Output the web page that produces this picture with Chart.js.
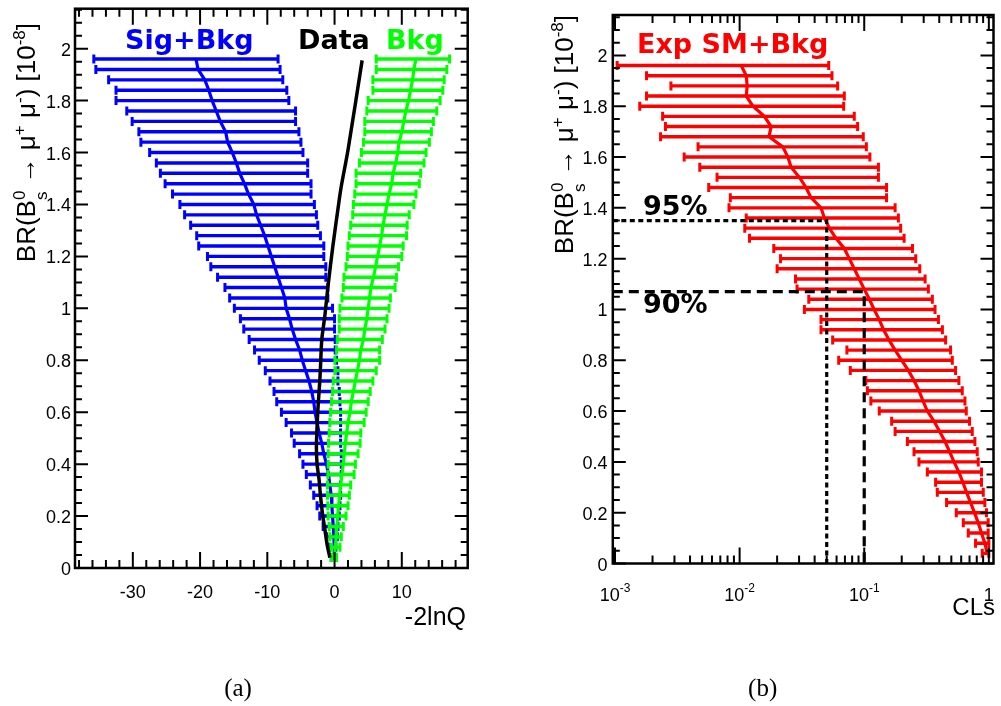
<!DOCTYPE html>
<html>
<head>
<meta charset="utf-8">
<script src="https://cdn.jsdelivr.net/npm/chart.js@4.4.0/dist/chart.umd.min.js"></script>
<style>
html,body{margin:0;padding:0;background:#fff;width:1001px;height:706px;overflow:hidden}
#wa{position:absolute;left:0;top:0;width:500px;height:706px}
#wb{position:absolute;left:500px;top:0;width:501px;height:706px}
canvas{display:block}
</style>
</head>
<body>
<div id="wa"><canvas id="ca" width="500" height="706"></canvas></div>
<div id="wb"><canvas id="cb" width="501" height="706"></canvas></div>
<script>
// ---------------- data ----------------
const brValues = [1.96,1.92,1.88,1.84,1.80,1.76,1.72,1.68,1.64,1.60,1.56,1.52,1.48,1.44,1.40,1.36,1.32,1.28,1.24,1.20,1.16,1.12,1.08,1.04,1.00,0.96,0.92,0.88,0.84,0.80,0.76,0.72,0.68,0.64,0.60,0.56,0.52,0.48,0.44,0.40,0.36,0.32,0.28,0.24,0.20,0.16,0.12,0.08,0.04];

// panel (a): -2lnQ
const sigBkgLow = [-35.8,-35.5,-33.6,-32.5,-32.5,-30.9,-30.1,-29.1,-28.8,-27.5,-26.5,-25.9,-25.2,-24.1,-23.0,-22.3,-21.4,-20.5,-20.2,-18.9,-18.4,-17.4,-16.3,-15.6,-14.9,-14.0,-13.5,-12.7,-11.9,-11.2,-10.3,-9.6,-9.0,-8.6,-7.9,-7.2,-6.4,-6.0,-5.2,-4.7,-4.2,-3.6,-3.1,-2.6,-2.2,-1.7,-1.2,-0.8,-0.5];
const sigBkgHigh = [-8.4,-8.1,-7.7,-7.1,-6.8,-5.8,-5.8,-5.3,-5.0,-4.7,-4.0,-4.0,-3.5,-3.5,-3.0,-2.7,-2.5,-2.1,-1.6,-1.6,-1.3,-1.3,-1.0,-1.0,-0.3,0.0,0.0,0.1,0.1,0.3,0.5,0.5,0.7,0.8,0.9,0.9,0.9,0.9,1.0,1.0,1.0,0.9,0.9,0.8,0.7,0.5,0.4,0.2,0.1];
const sigBkgMedian = [-20.6,-20.3,-19.3,-18.7,-18.2,-17.6,-17.0,-16.2,-15.9,-15.2,-14.6,-14.1,-13.4,-12.8,-12.0,-11.6,-11.0,-10.4,-9.9,-9.4,-8.9,-8.4,-7.9,-7.4,-7.2,-6.7,-6.3,-5.8,-5.2,-4.8,-4.3,-3.8,-3.4,-3.1,-2.9,-2.6,-2.3,-1.9,-1.6,-1.2,-0.9,-0.7,-0.5,-0.4,-0.3,-0.2,-0.1,-0.05,-0.05];
const bkgLow = [6.2,6.2,5.7,5.7,5.0,4.8,4.5,4.5,4.3,4.0,3.7,3.2,3.2,3.0,2.8,2.7,2.4,2.2,2.0,1.9,1.7,1.4,1.3,1.1,0.8,0.7,0.7,0.4,0.3,0.05,0.05,-0.2,-0.3,-0.45,-0.6,-0.7,-0.8,-0.9,-0.95,-0.95,-1.0,-1.05,-1.05,-1.0,-0.95,-0.8,-0.7,-0.55,-0.45];
const bkgHigh = [17.1,16.7,16.3,16.1,15.7,15.2,14.7,14.4,14.1,13.6,13.3,12.8,12.6,12.1,11.8,11.1,10.8,10.7,10.2,10.0,9.5,9.2,9.0,8.3,8.1,7.8,7.5,7.1,6.7,6.7,6.2,5.7,5.3,5.0,4.7,4.4,3.9,3.8,3.5,3.1,2.9,2.4,2.2,2.0,1.7,1.3,1.0,0.8,0.3];
const bkgMedian = [12.1,11.8,11.6,11.3,11.0,10.6,10.3,10.0,9.6,9.4,9.1,8.7,8.5,8.1,7.8,7.5,7.2,7.0,6.7,6.4,6.1,5.8,5.4,5.2,5.0,4.8,4.5,4.3,3.9,3.7,3.4,3.1,2.8,2.5,2.3,2.0,1.8,1.6,1.45,1.3,1.1,0.9,0.75,0.6,0.45,0.35,0.25,0.1,0.0];
const dataBR  = [1.955,1.61,1.47,1.41,1.24,1.08,0.97,0.88,0.77,0.72,0.60,0.465,0.40,0.34,0.28,0.21,0.15,0.09,0.04];
const dataLnQ = [4.1,2.0,1.0,0.65,-0.25,-1.0,-1.45,-1.9,-2.1,-2.2,-2.5,-2.7,-2.6,-2.3,-2.1,-1.8,-1.45,-1.1,-0.7];

// panel (b): CLs
const expLow = [0.00104,0.00179,0.00281,0.00179,0.00158,0.00241,0.00254,0.00232,0.00464,0.00359,0.00479,0.00659,0.00565,0.00842,0.00822,0.0113,0.0110,0.0120,0.0188,0.0213,0.0200,0.0281,0.0289,0.0359,0.0331,0.0450,0.0450,0.0558,0.0726,0.0624,0.0773,0.103,0.106,0.113,0.132,0.166,0.177,0.222,0.251,0.275,0.321,0.374,0.386,0.458,0.548,0.624,0.684,0.782,0.885];
const expHigh = [0.0519,0.0551,0.0612,0.0692,0.0684,0.0832,0.0885,0.0982,0.104,0.111,0.130,0.130,0.151,0.151,0.177,0.188,0.196,0.209,0.244,0.259,0.279,0.308,0.327,0.352,0.370,0.394,0.424,0.450,0.493,0.509,0.541,0.575,0.612,0.643,0.659,0.700,0.736,0.773,0.807,0.822,0.873,0.873,0.902,0.929,0.957,0.988,0.988,1.0,1.0];
const expMedian = [0.0103,0.0113,0.0115,0.0113,0.0128,0.0158,0.0179,0.0172,0.0222,0.0244,0.0259,0.0302,0.0341,0.0374,0.0450,0.0479,0.0525,0.0593,0.0692,0.0759,0.0832,0.0912,0.100,0.110,0.120,0.132,0.143,0.158,0.177,0.200,0.226,0.251,0.275,0.296,0.321,0.363,0.403,0.445,0.484,0.525,0.575,0.619,0.662,0.713,0.767,0.822,0.873,0.929,0.970];
const limitCLs = [0.05, 0.1];
const limitBR = [1.35, 1.07];
const limitLabels = ['95%', '90%'];

// ticks / labels
const yTickValues = [0,0.2,0.4,0.6,0.8,1,1.2,1.4,1.6,1.8,2];
const yTickLabels = ['0','0.2','0.4','0.6','0.8','1','1.2','1.4','1.6','1.8','2'];
const lnqTickValues = [-30,-20,-10,0,10];
const lnqTickLabels = ['-30','-20','-10','0','10'];
const clsTickValues = [0.001,0.01,0.1,1];
const clsTickLabels = ['10^-3','10^-2','10^-1','1'];

// ---------------- helpers ----------------
Chart.defaults.animation = false;
Chart.defaults.events = [];
Chart.defaults.plugins.legend.display = false;
Chart.defaults.plugins.tooltip.enabled = false;

const SANS = '"Liberation Sans", Arial, sans-serif';
const BOLD = 'bold 27px "DejaVu Sans", sans-serif';

function errorBarData(lo, hi) {
  const pts = [];
  for (let i = 0; i < brValues.length; i++) {
    pts.push({x: lo[i], y: brValues[i]}, {x: hi[i], y: brValues[i]}, {x: null, y: null});
  }
  return pts;
}
function curve(xs, ys) { return xs.map((x, i) => ({x: x, y: ys[i]})); }
function barSet(lo, hi, color, order) {
  return {data: errorBarData(lo, hi), showLine: true, spanGaps: false, borderColor: color, borderWidth: 3.4,
    pointStyle: 'line', pointRotation: 90, pointRadius: 4.5, pointBorderWidth: 3,
    pointBorderColor: color, pointBackgroundColor: color, tension: 0, order: order};
}
function lineSet(data, color, order, extra) {
  return Object.assign({data: data, showLine: true, borderColor: color, borderWidth: 3.2, pointRadius: 0, tension: 0, order: order}, extra || {});
}

function ticksAndFrame(ctx, ca, x, y, xMaj, xMin, yMaj, yMin) {
  ctx.save();
  ctx.strokeStyle = '#000'; ctx.lineWidth = 2;
  ctx.beginPath();
  xMaj.forEach(v => { const p = x.getPixelForValue(v); ctx.moveTo(p, ca.bottom); ctx.lineTo(p, ca.bottom - 16); ctx.moveTo(p, ca.top); ctx.lineTo(p, ca.top + 16); });
  xMin.forEach(v => { const p = x.getPixelForValue(v); ctx.moveTo(p, ca.bottom); ctx.lineTo(p, ca.bottom - 8); ctx.moveTo(p, ca.top); ctx.lineTo(p, ca.top + 8); });
  yMaj.forEach(v => { const p = y.getPixelForValue(v); ctx.moveTo(ca.left, p); ctx.lineTo(ca.left + 13, p); ctx.moveTo(ca.right, p); ctx.lineTo(ca.right - 13, p); });
  yMin.forEach(v => { const p = y.getPixelForValue(v); ctx.moveTo(ca.left, p); ctx.lineTo(ca.left + 7, p); ctx.moveTo(ca.right, p); ctx.lineTo(ca.right - 7, p); });
  ctx.stroke();
  ctx.lineWidth = 2.5;
  ctx.strokeRect(ca.left, ca.top, ca.right - ca.left, ca.bottom - ca.top);
  ctx.restore();
}
function yLabels(ctx, ca, y, gap) {
  ctx.save();
  ctx.fillStyle = '#000'; ctx.font = '18px ' + SANS; ctx.textAlign = 'right'; ctx.textBaseline = 'alphabetic';
  yTickValues.forEach((v, i) => ctx.fillText(yTickLabels[i], ca.left - gap, y.getPixelForValue(v) + 7));
  ctx.restore();
}
function drawBRTitle(ctx, xBase, yEnd) {
  const big = '26px ' + SANS, small = '17px ' + SANS;
  const up = -10.5, down = 11.5;
  const parts = [
    {t: 'BR(B', f: big, dy: 0},
    {stack: [{t: '0', dy: up}, {t: 's', dy: down}]},
    {t: ' \u2192 ', f: big, dy: 0},
    {t: '\u03bc', f: big, dy: 0},
    {t: '+', f: small, dy: up},
    {t: ' \u03bc', f: big, dy: 0},
    {t: '-', f: small, dy: up},
    {t: ') [10', f: big, dy: 0},
    {t: '-8', f: small, dy: up},
    {t: ']', f: big, dy: 0}
  ];
  ctx.save();
  let W = 0;
  parts.forEach(p => {
    if (p.stack) { ctx.font = small; p.w = Math.max.apply(null, p.stack.map(s => ctx.measureText(s.t).width)); }
    else { ctx.font = p.f; p.w = ctx.measureText(p.t).width; }
    W += p.w;
  });
  ctx.translate(xBase, yEnd); ctx.rotate(-Math.PI / 2);
  ctx.textAlign = 'left'; ctx.textBaseline = 'alphabetic'; ctx.fillStyle = '#000';
  let cx = -W;
  parts.forEach(p => {
    if (p.stack) { ctx.font = small; p.stack.forEach(s => ctx.fillText(s.t, cx, s.dy)); }
    else { ctx.font = p.f; ctx.fillText(p.t, cx, p.dy); }
    cx += p.w;
  });
  ctx.restore();
}
function text(ctx, s, x, y, font, color, align) {
  ctx.save(); ctx.font = font; ctx.fillStyle = color; ctx.textAlign = align || 'left'; ctx.textBaseline = 'alphabetic';
  ctx.fillText(s, x, y); ctx.restore();
}

// ---------------- panel (a) ----------------
const lnqMinor = []; for (let v = -38; v <= 19; v += 2) if (v % 10 !== 0) lnqMinor.push(v);
const yMinor = []; for (let k = 0; k <= 43; k++) if (k % 4 !== 0) yMinor.push(k * 0.05);

const pluginA = {
  id: 'axesA',
  afterDraw(chart) {
    const ctx = chart.ctx, ca = chart.chartArea, x = chart.scales.x, y = chart.scales.y;
    ticksAndFrame(ctx, ca, x, y, lnqTickValues, lnqMinor, yTickValues, yMinor);
    yLabels(ctx, ca, y, 4);
    ctx.save(); ctx.fillStyle = '#000'; ctx.font = '18px ' + SANS; ctx.textAlign = 'center';
    lnqTickValues.forEach((v, i) => ctx.fillText(lnqTickLabels[i], x.getPixelForValue(v), 598));
    ctx.restore();
    text(ctx, '-2lnQ', 466, 625, '25px ' + SANS, '#000', 'right');
    drawBRTitle(ctx, 35, 23);
    text(ctx, 'Sig+Bkg', 125, 49, BOLD, '#0000ff');
    text(ctx, 'Data', 298, 49, BOLD, '#000000');
    text(ctx, 'Bkg', 386, 49, BOLD, '#00ff00');
    text(ctx, '(a)', 238, 696, '25px "Liberation Serif", serif', '#000', 'center');
  }
};

new Chart(document.getElementById('ca'), {
  type: 'scatter',
  data: {datasets: [
    lineSet(curve(dataLnQ, dataBR), '#000000', 0, {tension: 0.25, borderWidth: 3.5}),
    lineSet(curve(bkgMedian, brValues), '#00ff00', 1),
    barSet(bkgLow, bkgHigh, '#00ff00', 2),
    lineSet(curve(sigBkgMedian, brValues), '#0000ff', 3),
    barSet(sigBkgLow, sigBkgHigh, '#0000ff', 4)
  ]},
  options: {
    responsive: false, maintainAspectRatio: false, devicePixelRatio: 1,
    layout: {padding: {left: 75, top: 8.7, right: 32.3, bottom: 138}},
    scales: {
      x: {type: 'linear', min: -38.6, max: 19.8, display: false},
      y: {type: 'linear', min: 0, max: 2.154, display: false}
    }
  },
  plugins: [pluginA]
});

// ---------------- panel (b) ----------------
const clsMin = 0.00096, clsMax = 1.09;
const clsMinor = [];
[-3, -2, -1, 0].forEach(d => { for (let k = 2; k <= 9; k++) { const v = k * Math.pow(10, d); if (v > clsMin && v < clsMax) clsMinor.push(v); } });

const pluginB = {
  id: 'axesB',
  afterDraw(chart) {
    const ctx = chart.ctx, ca = chart.chartArea, x = chart.scales.x, y = chart.scales.y;
    ticksAndFrame(ctx, ca, x, y, clsTickValues, clsMinor, yTickValues, yMinor);
    yLabels(ctx, ca, y, 5.3);
    ctx.save(); ctx.fillStyle = '#000'; ctx.textAlign = 'left'; ctx.textBaseline = 'alphabetic';
    clsTickValues.forEach((v, i) => {
      const parts = clsTickLabels[i].split('^');
      ctx.font = '18px ' + SANS; const wb = ctx.measureText(parts[0]).width;
      let we = 0;
      if (parts[1]) { ctx.font = '12px ' + SANS; we = ctx.measureText(parts[1]).width; }
      const x0 = x.getPixelForValue(v) - (wb + we) / 2;
      ctx.font = '18px ' + SANS; ctx.fillText(parts[0], x0, 600.5);
      if (parts[1]) { ctx.font = '12px ' + SANS; ctx.fillText(parts[1], x0 + wb, 591.5); }
    });
    ctx.restore();
    text(ctx, 'CLs', 495, 615, '24px ' + SANS, '#000', 'right');
    drawBRTitle(ctx, 73.3, 15);
    text(ctx, 'Exp SM+Bkg', 137, 53, BOLD, '#ff0000');
    text(ctx, limitLabels[0], 143, 215, BOLD, '#000');
    text(ctx, limitLabels[1], 143, 313, BOLD, '#000');
    text(ctx, '(b)', 262.7, 696, '25px "Liberation Serif", serif', '#000', 'center');
  }
};

new Chart(document.getElementById('cb'), {
  type: 'scatter',
  data: {datasets: [
    lineSet([{x: clsMin, y: limitBR[0]}, {x: limitCLs[0], y: limitBR[0]}, {x: limitCLs[0], y: 0}], '#000000', 0, {borderDash: [5, 3.5]}),
    lineSet([{x: clsMin, y: limitBR[1]}, {x: limitCLs[1], y: limitBR[1]}, {x: limitCLs[1], y: 0}], '#000000', 1, {borderDash: [10, 6]}),
    lineSet(curve(expMedian, brValues), '#ff0000', 2),
    barSet(expLow, expHigh, '#ff0000', 3)
  ]},
  options: {
    responsive: false, maintainAspectRatio: false, devicePixelRatio: 1,
    layout: {padding: {left: 112.8, top: 15, right: 6.3, bottom: 142.5}},
    scales: {
      x: {type: 'logarithmic', min: clsMin, max: clsMax, display: false},
      y: {type: 'linear', min: 0, max: 2.159, display: false}
    }
  },
  plugins: [pluginB]
});
</script>
</body>
</html>
